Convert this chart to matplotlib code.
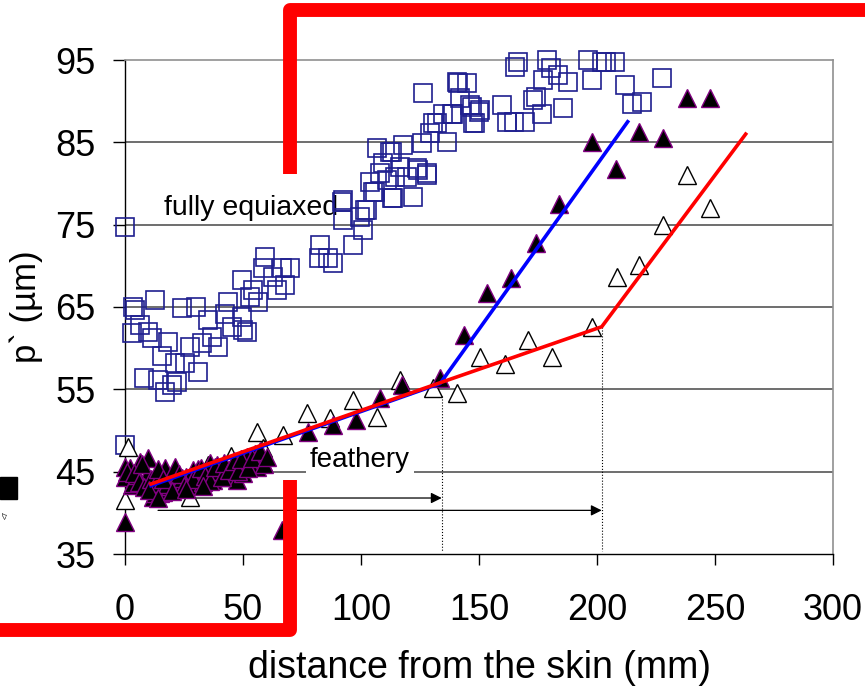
import matplotlib
matplotlib.use('Agg')
import matplotlib.pyplot as plt
from matplotlib.lines import Line2D
from matplotlib.patches import Rectangle

plt.rcParams['font.family'] = ['Liberation Sans', 'DejaVu Sans']

# fully equiaxed grains (open squares)
sqX = [0, 0, 3.4, 4.2, 12.7, 24, 30, 6.4, 2.8, 9.9, 11.3, 18.4, 15.5, 8.2, 14.1, 19.8, 17, 21.9,
       25.4, 21.2, 31.1, 27.5, 32.5, 36.7, 39.5, 35.3, 42.4, 43.8, 45.2, 49.4, 51.6, 53, 56.5, 49.4,
       54.4, 59.3, 58.6, 62.8, 66.4, 69.9, 67.8, 64.3, 50, 82.6, 82, 86, 88, 92.4, 91.8, 96.7, 101,
       99.6, 102.4, 103.8, 106, 106.6, 109.5, 113, 113, 116.5, 118, 122, 123.6, 128, 125.7, 126.4,
       129.2, 132, 134.9, 130.6, 139, 141, 145, 142, 147, 150.4, 148.3, 159.7, 161.7, 165, 169.5,
       165.3, 166.5, 173, 174.3, 176.6, 177.2, 179, 180.7, 183.6, 187.8, 185.7, 196.3, 197.8, 202,
       204, 207.5, 212, 215, 219, 227.5, 140.6, 138.5, 146, 150, 147.5, 136.4, 112.3, 108, 114.4,
       119.5, 111, 105, 113.6, 92.4, 101.7, 124, 128]
sqY = [74.7, 48.2, 65, 64.6, 65.8, 64.9, 65.0, 62.8, 61.9, 62.0, 61.2, 60.8, 59.0, 56.4, 56.1, 55.5,
       54.7, 55.9, 58.2, 58.2, 57.1, 60.2, 60.6, 61.4, 60.2, 63.4, 64.2, 65.6, 62.6, 63.8, 62.0, 66.2,
       65.6, 68.3, 67.1, 71.1, 69.7, 68.7, 69.7, 69.7, 67.7, 67.1, 62.2, 72.5, 71, 71, 70.3, 75.6,
       77.8, 72.5, 74.3, 75.9, 76.8, 80.2, 79, 84.3, 82.5, 78.2, 83.8, 82, 84.7, 78.4, 81.9, 81.3,
       84.9, 91, 86.1, 87.3, 88.5, 87.3, 88.5, 92.2, 92.2, 90.4, 89.3, 88.9, 87.3, 89.5, 87.5, 87.5,
       87.5, 94.2, 94.8, 90.1, 90.5, 88.5, 92.6, 95, 94, 93.2, 92.3, 89.2, 95, 92.6, 94.8, 94.8, 94.8,
       92, 89.7, 89.9, 92.8, 92.3, 88.5, 89.5, 88.7, 87.3, 85, 83.8, 81.3, 80.8, 80.8, 80.4, 79, 78.2,
       78, 76.8, 81.6, 81]

# feathery / columnar, filled triangles
ftX = [238, 248, 197.8, 217.8, 228, 208, 184, 174, 163.6, 153.4, 143.6, 133.5, 117.3, 108, 98, 88,
       77.6, 66.5, 0, 0, 0, 2, 3, 6.4, 9.9, 3.4, 12, 12.7, 15, 16, 17, 20.4, 22, 26, 27.5, 28.8, 33,
       36, 37.4, 43, 47.4, 50, 51.6, 55, 55.8, 58.5, 9.3, 1, 5, 19, 24, 30, 40, 45, 53, 31, 39,
       4, 6, 7, 8, 11, 13, 14, 18, 21, 23, 25, 29, 32, 34, 36, 38, 41, 42, 44, 46, 48, 49, 52, 54,
       57, 59, 60, 16, 10, 14, 20, 26, 33]
ftY = [90.4, 90.4, 85.1, 86.3, 85.5, 81.8, 77.5, 72.8, 68.5, 66.7, 61.6, 56.4, 55.5, 53.9, 51.3,
       50.7, 49.8, 37.9, 38.9, 44.3, 45.6, 45.4, 43.4, 46.2, 46.6, 43.6, 41.9, 42.4, 42.4, 42.5, 45.4,
       44, 43.1, 44.3, 43.4, 45.2, 43.7, 46, 44, 44.4, 44, 44.8, 46.8, 47.2, 45.6, 46.2, 44.6, 44.9,
       44.6, 43.2, 44.2, 44.6, 45.1, 45.5, 45.9, 45.3, 45.8,
       44.8, 43.8, 45.9, 43.1, 44.1, 43.6, 45.3, 43.5, 45.6, 44.7, 43.2, 44.1, 45.4, 44.5, 43.9, 45.6,
       44.3, 46.0, 45.2, 46.3, 45.1, 46.5, 45.4, 46.6, 47.5, 45.9, 46.8, 44.1, 42.8, 41.8, 42.6, 42.9,
       43.3]

# open triangles
otX = [238, 248, 228, 218, 208.4, 197.8, 170.8, 150.4, 161, 181, 130.6, 140.5, 116.5, 96.8, 106.6,
       87, 77, 67, 56, 58.5, 0, 1.3, 27.5, 12.7, 35, 45]
otY = [81, 77, 75, 70.1, 68.6, 62.6, 61, 58.9, 58.1, 58.9, 55.2, 54.5, 56.1, 53.7, 51.6, 51.5, 52.1,
       49.4, 49.8, 47.9, 41.5, 48, 41.9, 42.2, 45.8, 46.9]

# fitted trend lines
blueX = [11, 133.5, 213]
blueY = [43.3, 55.7, 87.5]
redX = [11, 133.5, 202, 263]
redY = [43.5, 55.8, 62.6, 86]

W, H = 865, 686
fig = plt.figure(figsize=(W / 100, H / 100), dpi=100)
ax = fig.add_axes([125 / W, 1 - 554 / H, 708 / W, 494 / H])

ax.plot(sqX, sqY, 's', ms=13.5, mfc='none', mec='#1f1f8f', mew=1.2, zorder=3, clip_on=False)
ax.plot(otX, otY, '^', ms=13, mfc='white', mec='black', mew=1.0, zorder=4, clip_on=False)
ax.plot(ftX, ftY, '^', ms=13, mfc='black', mec='#800080', mew=1.0, zorder=5, clip_on=False)
ax.plot(blueX, blueY, color='#0000ff', lw=2.6, zorder=6)
ax.plot(redX, redY, color='#ff0000', lw=2.6, zorder=7)

# dotted markers of the transitions
ax.plot([134.2, 134.2], [54.2, 35.4], ls=':', color='black', lw=0.8, zorder=2)
ax.plot([202, 202], [62.6, 35.4], ls=':', color='black', lw=0.8, zorder=2)

# arrows
ax.annotate('', xy=(134.2, 41.8), xytext=(14, 41.8),
            arrowprops=dict(arrowstyle='-|>', color='black', lw=0.9, mutation_scale=16,
                            shrinkA=0, shrinkB=0), zorder=3)
ax.annotate('', xy=(202, 40.3), xytext=(14, 40.3),
            arrowprops=dict(arrowstyle='-|>', color='black', lw=0.9, mutation_scale=16,
                            shrinkA=0, shrinkB=0), zorder=3)

ax.text(53.4, 77.0, 'fully equiaxed', fontsize=20.5, ha='center', va='center', zorder=2)
ax.text(99.6, 46.4, 'feathery', fontsize=20, ha='center', va='center', zorder=2,
        bbox=dict(facecolor='white', edgecolor='none', pad=3))

ax.set_xlim(0, 300)
ax.set_ylim(35, 95)
ax.set_xticks(range(0, 301, 50))
ax.set_yticks(range(35, 96, 10))
for yv in range(45, 95, 10):
    ax.axhline(yv, color='#555555', lw=1.2, zorder=1)

for side in ['top', 'right']:
    ax.spines[side].set_color('#909090')
    ax.spines[side].set_linewidth(1.2)
for side in ['left', 'bottom']:
    ax.spines[side].set_color('black')
    ax.spines[side].set_linewidth(1.0)

ax.tick_params(axis='x', direction='out', length=8, width=1, labelsize=26, pad=20)
ax.tick_params(axis='y', direction='out', length=9, width=1, labelsize=26, pad=12)

ax.set_xlabel('distance from the skin (mm)', fontsize=27)
ax.xaxis.set_label_coords(0.5, -0.195)
ax.set_ylabel('p` (µm)', fontsize=25)
ax.yaxis.set_label_coords(-0.116, 0.50)

# red highlight frame drawn over the figure
def fx(px):
    return px / W

def fy(py):
    return 1 - py / H

fig.add_artist(Line2D([fx(290), fx(290), fx(880)], [fy(174), fy(10), fy(10)],
                      color='#ff0000', lw=10, solid_joinstyle='round', solid_capstyle='butt'))
fig.add_artist(Line2D([fx(-10), fx(289.5), fx(289.5)], [fy(630), fy(630), fy(480)],
                      color='#ff0000', lw=10, solid_joinstyle='round', solid_capstyle='butt'))

# leftover fragments at the left edge
fig.add_artist(Rectangle((0, fy(499)), fx(17), 22 / H, color='black'))
fig.text(fx(6), fy(515), '<7', fontsize=5, rotation=90, ha='center', va='center')

fig.savefig('out.png', dpi=100)
